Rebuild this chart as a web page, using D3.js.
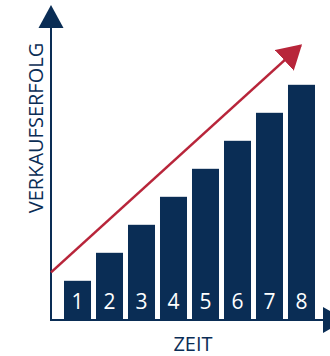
<!DOCTYPE html>
<html>
<head>
<meta charset="utf-8">
<script src="https://cdn.jsdelivr.net/npm/d3@7"></script>
<style>
  body { margin: 0; background: #fff; }
  svg { display: block; font-family: "Open Sans", sans-serif; }
</style>
</head>
<body>
<div id="chart"></div>
<script>
// Bars: periods and sales success (relative units)
var periods = ['1', '2', '3', '4', '5', '6', '7', '8'];
var sales = [14, 24, 34, 44, 54, 64, 74, 84];

// Trend arrow (time position, value)
var trendT = [0, 7.8];
var trendV = [17, 98];

var xLabel = 'ZEIT';
var yLabel = 'VERKAUFSERFOLG';

var width = 330, height = 356;
var navy = '#0a2d55', red = '#b8253a';

var svg = d3.select('#chart').append('svg')
    .attr('width', width)
    .attr('height', height);

// x band scale for bars, y linear for heights
var x = d3.scaleBand().domain(periods).range([64, 315]).paddingInner(0.156).paddingOuter(0);
var y = d3.scaleLinear().domain([0, 100]).range([320, 40]);
// continuous time scale for the trend arrow
var t = d3.scaleLinear().domain([0, 8]).range([51, 307]);

var defs = svg.append('defs');
defs.append('marker')
    .attr('id', 'redhead')
    .attr('markerUnits', 'userSpaceOnUse')
    .attr('viewBox', '0 0 24 28')
    .attr('markerWidth', 24).attr('markerHeight', 28)
    .attr('refX', 22).attr('refY', 14)
    .attr('orient', 'auto')
  .append('path')
    .attr('d', 'M0,0 L24,14 L0,28 Z')
    .attr('fill', red);

// bars
svg.selectAll('.bar')
    .data(sales)
  .enter().append('rect')
    .attr('class', 'bar')
    .attr('x', function(d, i) { return x(periods[i]); })
    .attr('y', function(d) { return y(d); })
    .attr('width', x.bandwidth())
    .attr('height', function(d) { return y(0) - y(d); })
    .attr('fill', navy);

// bar numbers
svg.selectAll('.num')
    .data(periods)
  .enter().append('text')
    .attr('class', 'num')
    .attr('x', function(d) { return x(d) + x.bandwidth() / 2; })
    .attr('y', y(0) - 11)
    .attr('text-anchor', 'middle')
    .attr('fill', '#fff')
    .style('font-size', '21px')
    .text(function(d) { return d; });

// axes
var x0 = t(0), y0 = y(0);
svg.append('line')
    .attr('x1', x0).attr('y1', y0 + 1)
    .attr('x2', x0).attr('y2', 26)
    .attr('stroke', navy).attr('stroke-width', 2);
svg.append('path')
    .attr('d', 'M' + (x0 - 12.5) + ',28 L' + x0 + ',5 L' + (x0 + 12.5) + ',28 Z')
    .attr('fill', navy);

svg.append('line')
    .attr('x1', x0 - 1).attr('y1', y0)
    .attr('x2', 325).attr('y2', y0)
    .attr('stroke', navy).attr('stroke-width', 2);
svg.append('path')
    .attr('d', 'M323,' + (y0 - 13) + ' L346,' + y0 + ' L323,' + (y0 + 13) + ' Z')
    .attr('fill', navy);

// trend arrow
var line = d3.line()
    .x(function(d, i) { return t(trendT[i]); })
    .y(function(d) { return y(d); });
svg.append('path')
    .datum(trendV)
    .attr('d', line)
    .attr('fill', 'none')
    .attr('stroke', red)
    .attr('stroke-width', 2.6)
    .attr('marker-end', 'url(#redhead)');

// axis labels
svg.append('text')
    .attr('x', 193)
    .attr('y', 351)
    .attr('text-anchor', 'middle')
    .attr('fill', navy)
    .style('font-size', '20px')
    .text(xLabel);

svg.append('text')
    .attr('transform', 'translate(43,128) rotate(-90)')
    .attr('text-anchor', 'middle')
    .attr('fill', navy)
    .style('font-size', '20px')
    .text(yLabel);
</script>
</body>
</html>
